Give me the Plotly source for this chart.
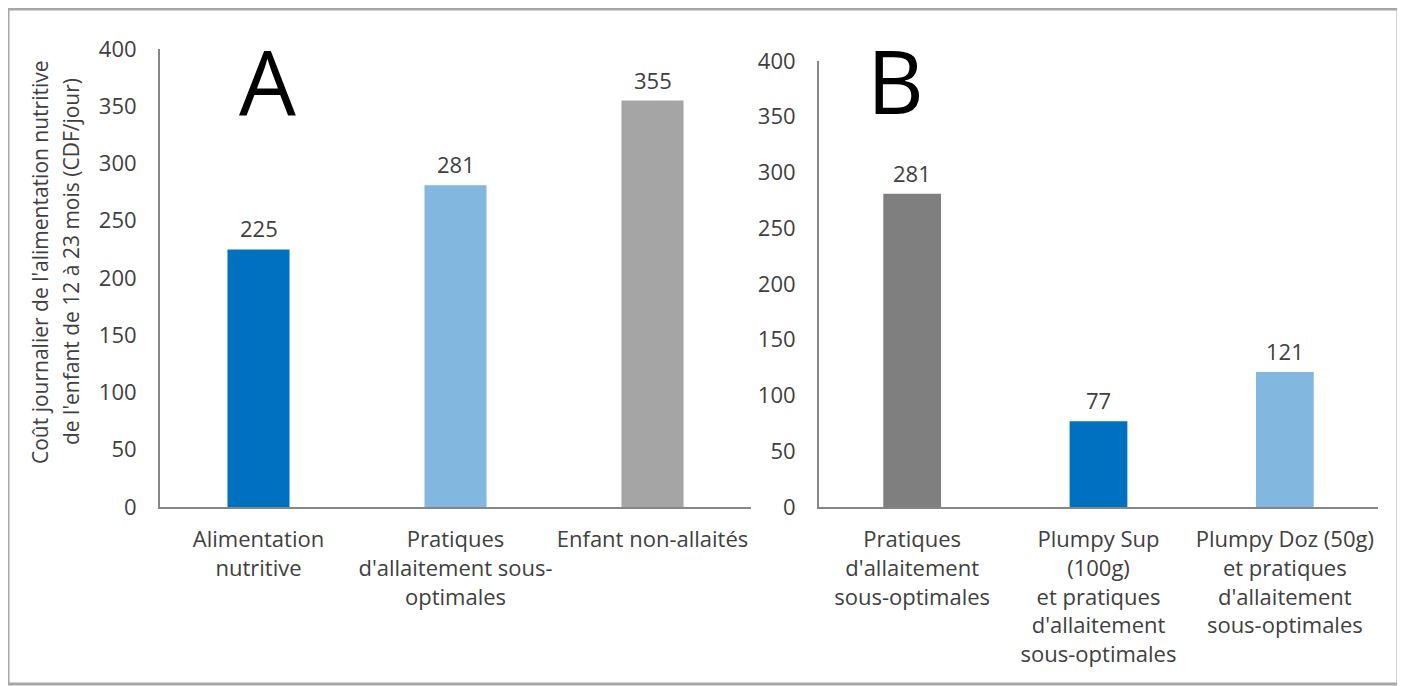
import plotly.graph_objects as go

# ---- data ----
cats_a = ["Alimentation<br>nutritive",
          "Pratiques<br>d'allaitement sous-<br>optimales",
          "Enfant non-allaités"]
vals_a = [225, 281, 355]
colors_a = ["#0070C0", "#82B7E0", "#A5A5A5"]

cats_b = ["Pratiques<br>d'allaitement<br>sous-optimales",
          "Plumpy Sup<br>(100g)<br>et pratiques<br>d'allaitement<br>sous-optimales",
          "Plumpy Doz (50g)<br>et pratiques<br>d'allaitement<br>sous-optimales"]
vals_b = [281, 77, 121]
colors_b = ["#7F7F7F", "#0070C0", "#82B7E0"]

y_ticks = [0, 50, 100, 150, 200, 250, 300, 350, 400]
y_title_lines = ["Coût journalier de l'alimentation nutritive",
                 "de l'enfant de 12 à 23 mois (CDF/jour)"]

# page body has an 8px margin: size the figure to the visible area and
# express reference pixel positions relative to that offset
OFF = 8
W, H = 1405 - OFF, 686 - OFF
FONT = "Open Sans"
TXT = "#404040"

def px_x(p):
    return (p - OFF) / W

def px_y(p):
    return (H - (p - OFF)) / H

fig = go.Figure()
fig.add_trace(go.Bar(x=cats_a, y=vals_a, marker=dict(color=colors_a, line=dict(width=0)),
                     width=0.315, xaxis="x", yaxis="y", showlegend=False, hoverinfo="x+y"))
fig.add_trace(go.Bar(x=cats_b, y=vals_b, marker=dict(color=colors_b, line=dict(width=0)),
                     width=0.31, xaxis="x2", yaxis="y2", showlegend=False, hoverinfo="x+y"))

axis_line = dict(showline=True, linecolor="#868686", linewidth=2, showgrid=False,
                 zeroline=False, ticks="outside", tickcolor="rgba(0,0,0,0)",
                 automargin=False)

fig.update_layout(
    width=W, height=H,
    autosize=False,
    margin=dict(l=0, r=0, t=0, b=0, pad=0, autoexpand=False),
    paper_bgcolor="white", plot_bgcolor="white",
    font=dict(family=FONT, color=TXT, size=22),
    xaxis=dict(domain=[px_x(160), px_x(751)], anchor="y", type="category",
               tickfont=dict(size=22, color=TXT), ticklen=12, **axis_line),
    yaxis=dict(domain=[px_y(507), px_y(49)], anchor="x", range=[0, 400],
               tickvals=y_ticks, tickfont=dict(size=22, color=TXT), ticklen=17, **axis_line),
    xaxis2=dict(domain=[px_x(819), px_x(1378)], anchor="y2", type="category",
                tickfont=dict(size=22, color=TXT), ticklen=12, **axis_line),
    yaxis2=dict(domain=[px_y(507), px_y(61)], anchor="x2", range=[0, 400],
                tickvals=y_ticks, tickfont=dict(size=22, color=TXT), ticklen=17, **axis_line),
)

anns = []
for c, v in zip(cats_a, vals_a):
    anns.append(dict(x=c, y=v, xref="x", yref="y", text=str(v), showarrow=False,
                     yanchor="bottom", yshift=4, font=dict(size=22, color=TXT)))
for c, v in zip(cats_b, vals_b):
    anns.append(dict(x=c, y=v, xref="x2", yref="y2", text=str(v), showarrow=False,
                     yanchor="bottom", yshift=4, font=dict(size=22, color=TXT)))

# panel letters
anns.append(dict(x=px_x(267), y=px_y(80), xref="paper", yref="paper", text="A",
                 showarrow=False, xanchor="center", yanchor="middle",
                 font=dict(size=90, color="#000000", family=FONT)))
anns.append(dict(x=px_x(895), y=px_y(80), xref="paper", yref="paper", text="B",
                 showarrow=False, xanchor="center", yanchor="middle",
                 font=dict(size=88, color="#000000", family=FONT)))

# y-axis title (two lines, rotated)
for xpos, line in zip([40, 71], y_title_lines):
    anns.append(dict(x=px_x(xpos), y=px_y(262), xref="paper", yref="paper", text=line,
                     showarrow=False, textangle=-90, xanchor="center", yanchor="middle",
                     font=dict(size=21, color=TXT)))

fig.update_layout(annotations=anns)

# outer frame
fig.add_shape(type="rect", xref="paper", yref="paper",
              x0=px_x(8), x1=px_x(1398), y0=px_y(684), y1=px_y(9),
              line=dict(color="#A6A6A6", width=3), fillcolor="rgba(0,0,0,0)")

fig.write_html("out.html")
